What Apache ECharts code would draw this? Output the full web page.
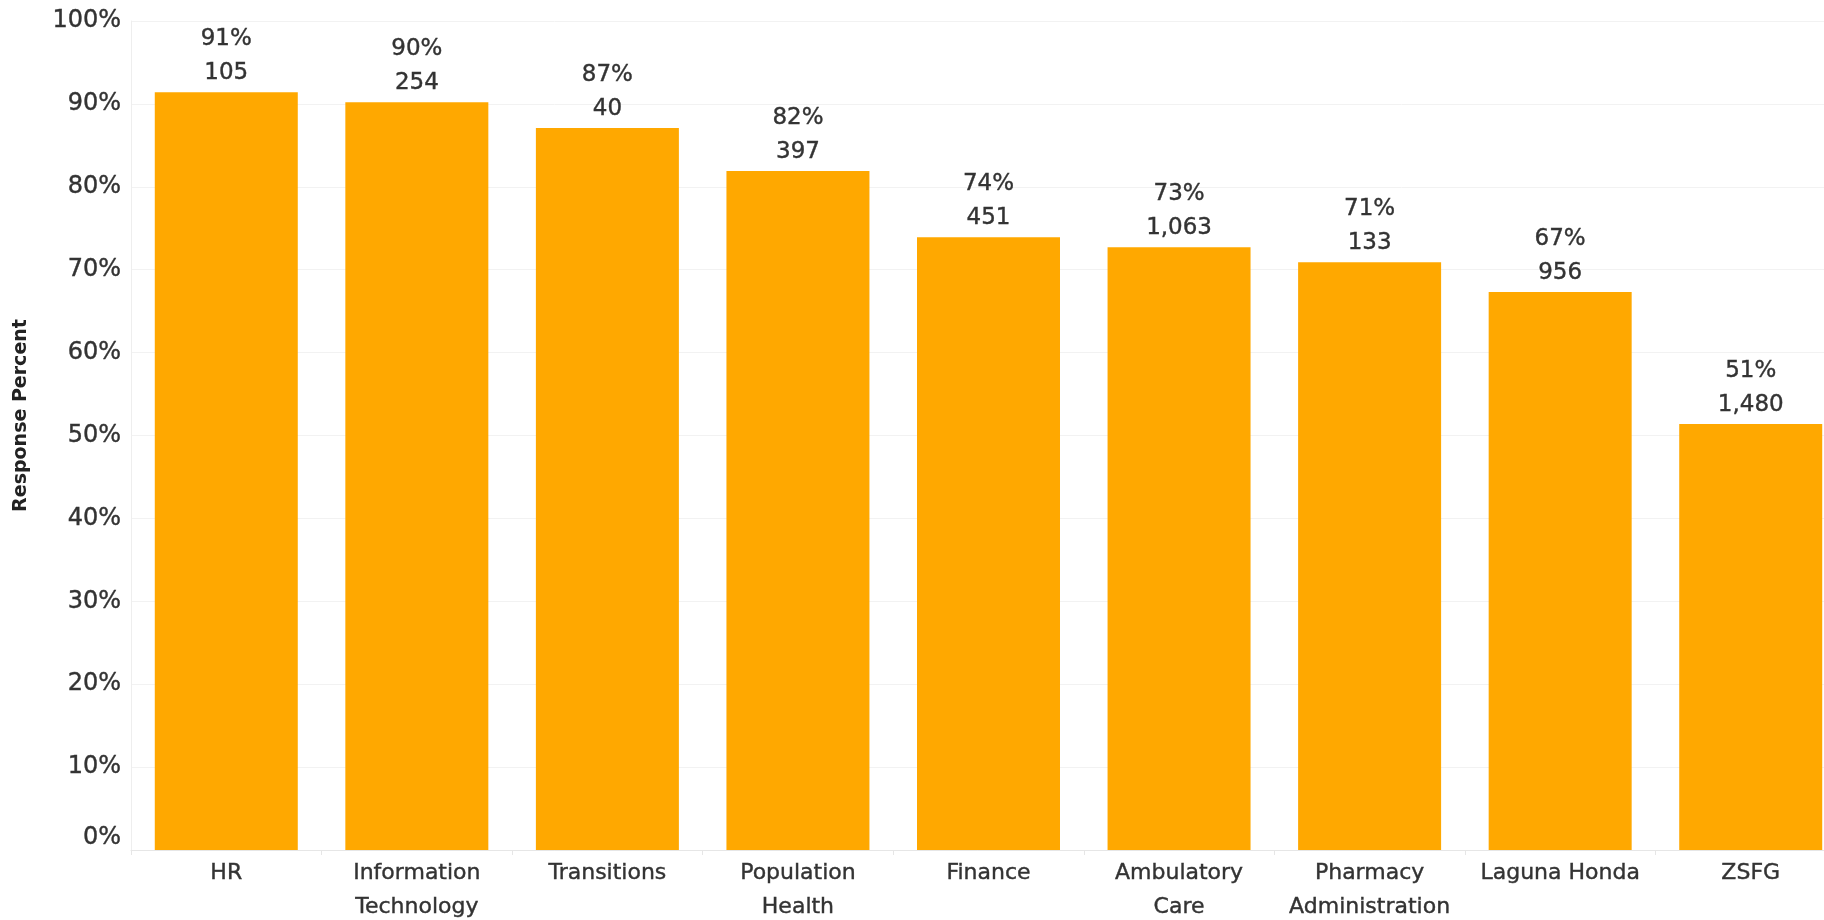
<!DOCTYPE html>
<html>
<head>
<meta charset="utf-8">
<script src="https://cdn.jsdelivr.net/npm/echarts@6/dist/echarts.min.js"></script>
<style>
	html, body { margin: 0; padding: 0; background: #fff; }
	#bar { width: 1824px; height: 920px; }
</style>
</head>
<body>
<div id="bar"></div>
<script>
// 各部门的回复率
var categories = ['HR', 'Information\nTechnology', 'Transitions', 'Population\nHealth', 'Finance',
	'Ambulatory\nCare', 'Pharmacy\nAdministration', 'Laguna Honda', 'ZSFG'];
var responsePct = [91.4, 90.2, 87.1, 81.9, 73.9, 72.7, 70.9, 67.3, 51.4];
var responseCount = [105, 254, 40, 397, 451, 1063, 133, 956, 1480];
var yTicks = [0, 10, 20, 30, 40, 50, 60, 70, 80, 90, 100];

function loadChartBar()
{
	var myChart = echarts.init(document.getElementById('bar'));
	var font = '"DejaVu Sans", "Open Sans", sans-serif';

	var option = {
		backgroundColor: '#fff',
		animation: false,
		grid: {
			left: 131,
			width: 1715,
			top: 21,
			bottom: 70,
			containLabel: false,
			outerBoundsMode: 'none'
		},
		xAxis: {
			type: 'category',
			data: categories,
			axisLine: { lineStyle: { color: '#e6e6e6', width: 1 } },
			axisTick: { show: true, length: 5, lineStyle: { color: '#e6e6e6' } },
			axisLabel: {
				color: '#333',
				fontFamily: font,
				fontSize: 22,
				lineHeight: 34,
				margin: 6,
				interval: 0,
				textBorderColor: '#333',
				textBorderWidth: 0.4
			}
		},
		yAxis: {
			type: 'value',
			min: yTicks[0],
			max: yTicks[yTicks.length - 1],
			interval: 10,
			name: 'Response Percent',
			nameLocation: 'middle',
			nameRotate: 90,
			nameGap: 100,
			nameTextStyle: {
				color: '#222',
				fontFamily: font,
				fontSize: 19,
				fontWeight: 'bold',
				padding: [0, 0, 0, 40]
			},
			axisLine: { show: true, lineStyle: { color: '#eeeeee' } },
			axisTick: { show: false },
			splitLine: { lineStyle: { color: '#f2f2f2' } },
			axisLabel: {
				color: '#333',
				fontFamily: font,
				fontSize: 24,
				margin: 10,
				verticalAlignMinLabel: 'bottom',
				textBorderColor: '#333',
				textBorderWidth: 0.4,
				formatter: '{value}%'
			}
		},
		series: [
			{
				name: 'Response Percent',
				type: 'bar',
				barWidth: 143,
				data: responsePct,
				itemStyle: { color: '#FFA800' },
				label: {
					show: true,
					position: 'top',
					distance: 2,
					color: '#333',
					fontFamily: font,
					fontSize: 23,
					lineHeight: 34,
					textBorderColor: '#333',
					textBorderWidth: 0.4,
					formatter: function (p) {
						return Math.round(p.value) + '%\n' + responseCount[p.dataIndex].toLocaleString('en-US');
					}
				}
			}
		]
	};

	myChart.setOption(option);
}

loadChartBar();
</script>
</body>
</html>
